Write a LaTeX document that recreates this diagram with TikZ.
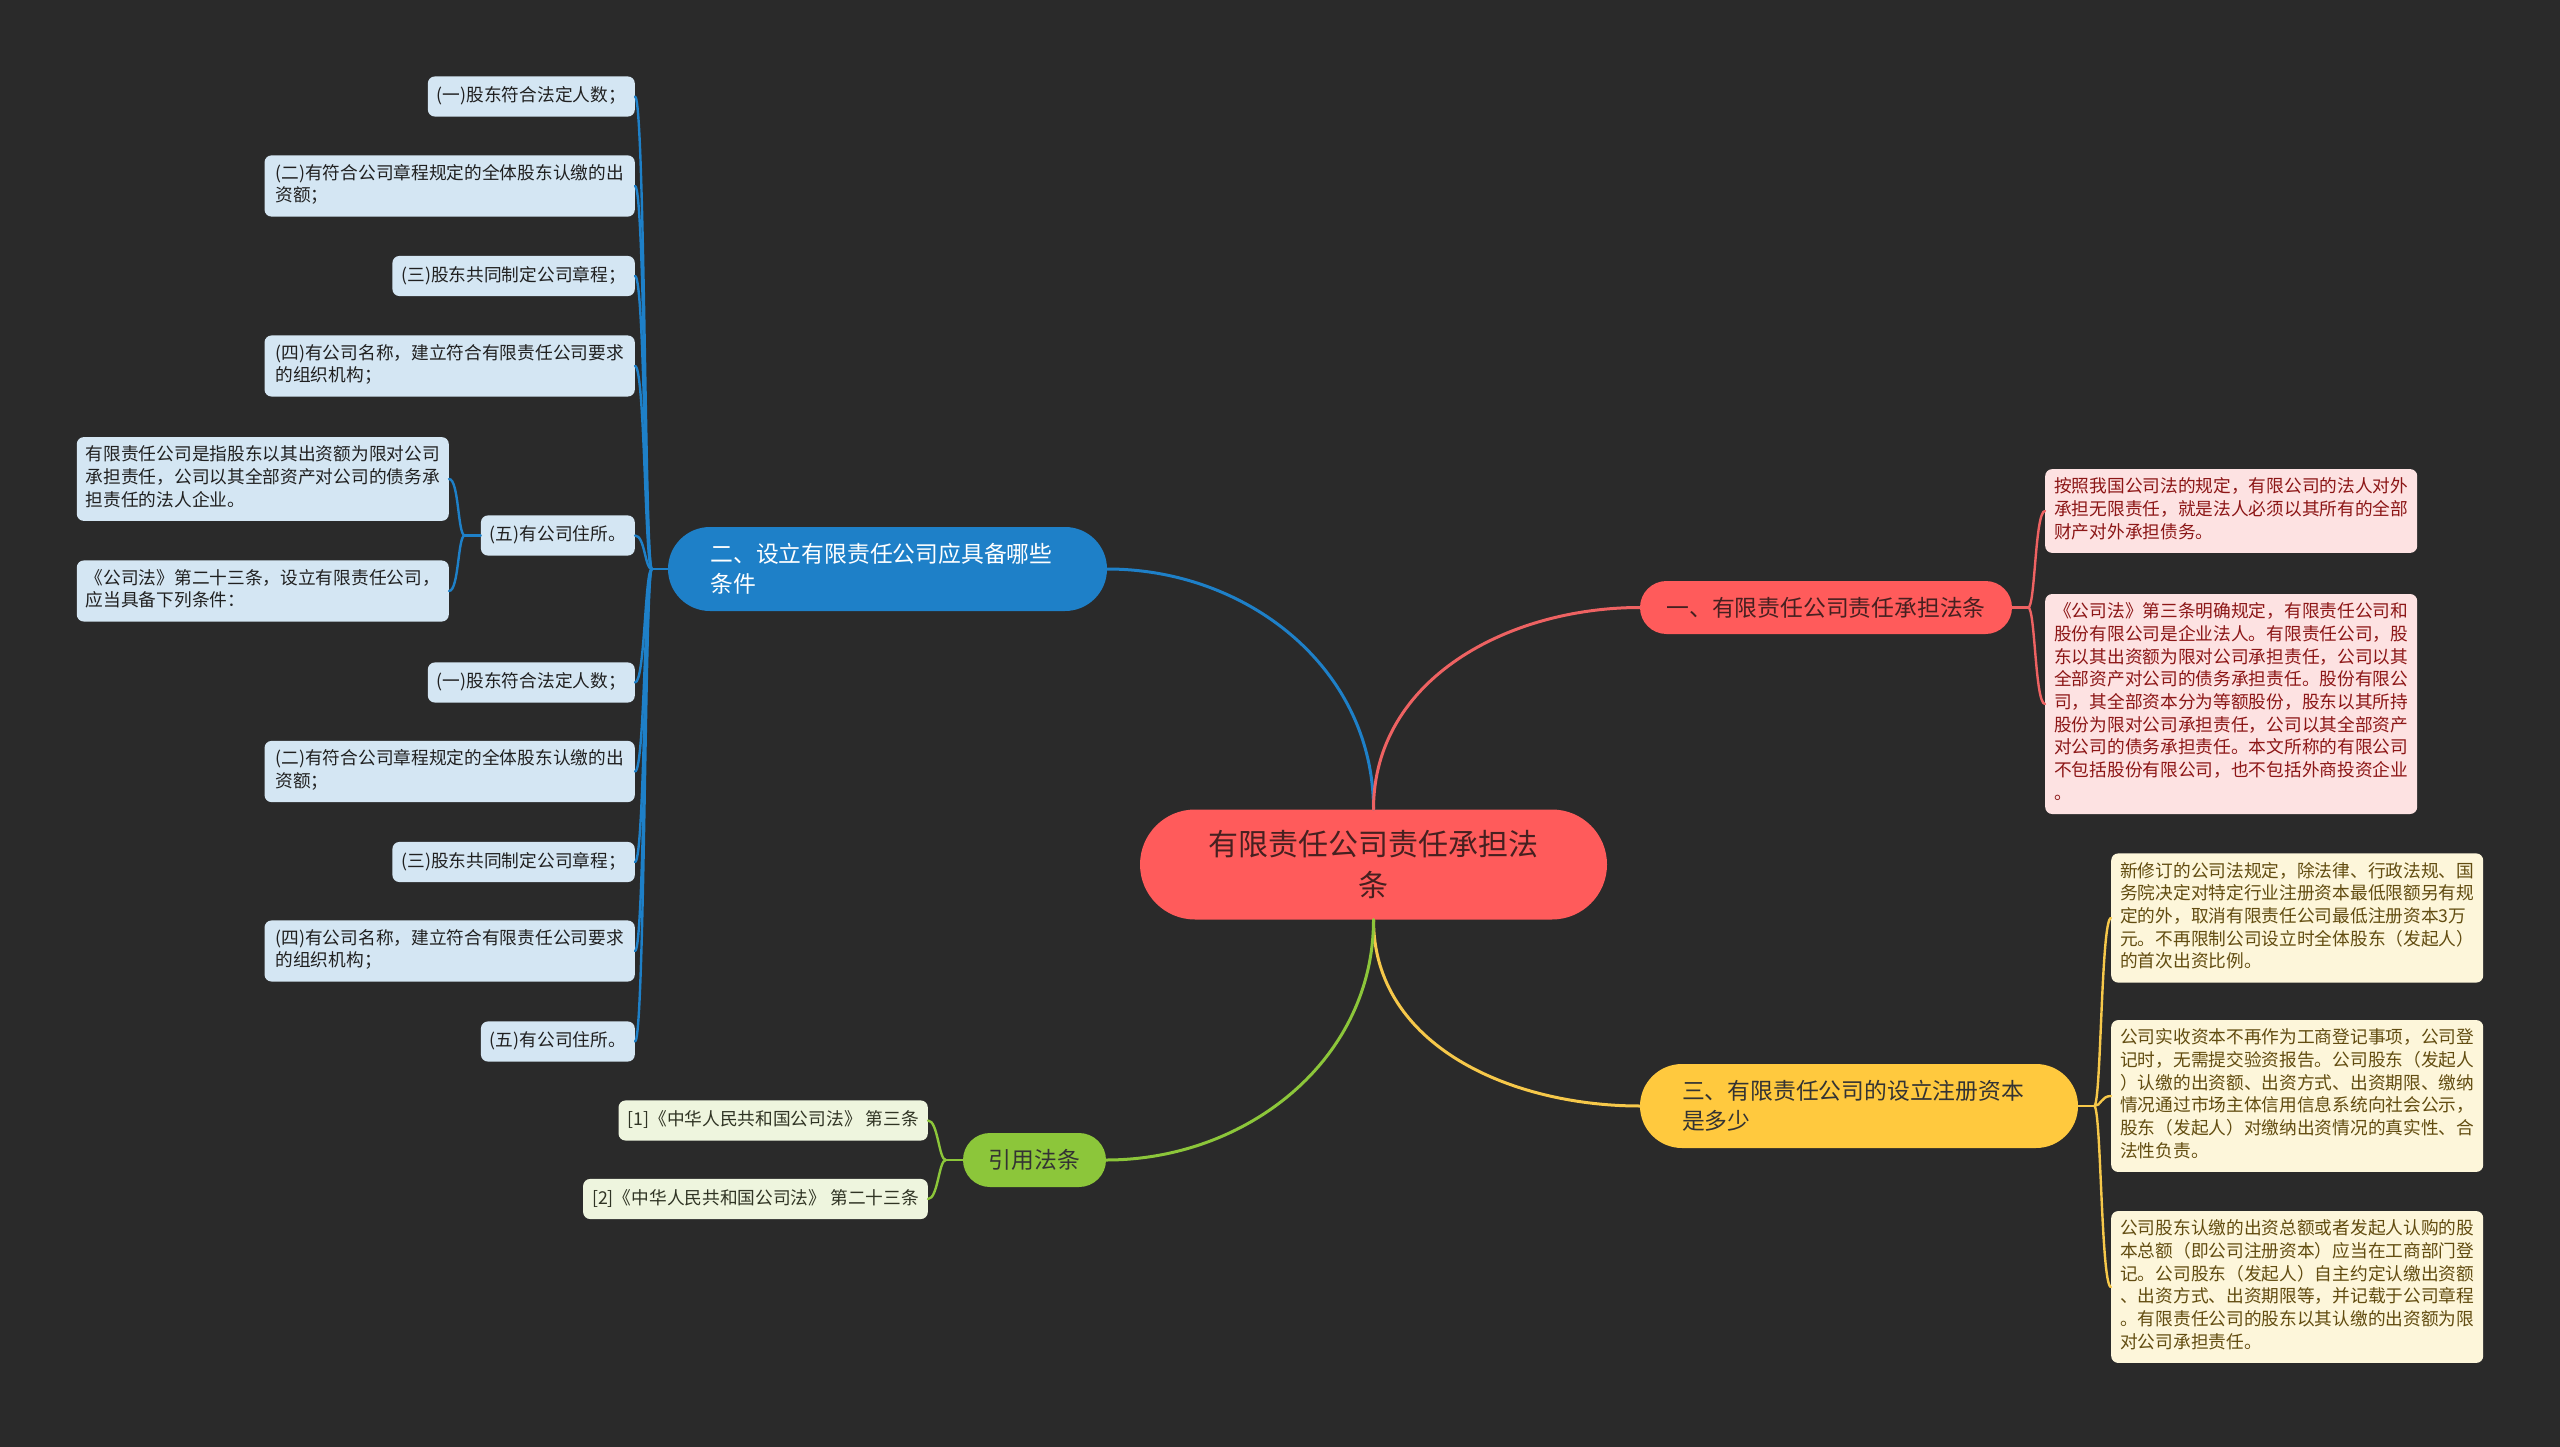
\documentclass[tikz,border=0pt]{standalone}
\usepackage{fontspec}
\setmainfont{Noto Sans CJK SC}
\usetikzlibrary{shapes.misc}
\definecolor{bgdark}{RGB}{42,42,42}
\definecolor{rootred}{RGB}{255,91,91}
\definecolor{roottx}{RGB}{70,32,32}
\definecolor{bluebr}{RGB}{30,128,200}
\definecolor{redbr}{RGB}{238,98,98}
\definecolor{yellowbr}{RGB}{255,201,62}
\definecolor{yellowln}{RGB}{246,200,74}
\definecolor{greenbr}{RGB}{140,198,58}
\definecolor{bluelf}{RGB}{212,230,243}
\definecolor{bluetx}{RGB}{32,32,32}
\definecolor{redlf}{RGB}{253,226,226}
\definecolor{redtx}{RGB}{140,22,22}
\definecolor{yellowlf}{RGB}{253,246,218}
\definecolor{yellowtx}{RGB}{98,76,16}
\definecolor{greenlf}{RGB}{238,245,222}
\definecolor{greentx}{RGB}{48,52,36}
\newcommand{\rootfont}{\fontsize{30pt}{41pt}\selectfont}
\newcommand{\brfont}{\fontsize{22.8pt}{30pt}\selectfont}
\newcommand{\lffont}{\fontsize{17.7pt}{22.7pt}\selectfont}
\newcommand{\lfstrut}{\rule[-6pt]{0pt}{22.7pt}}
\tikzset{
  mind/.style={line width=3pt, line cap=round},
  twig/.style={line width=2.4pt, line cap=round},
  pill/.style={rounded rectangle, inner xsep=0pt, inner ysep=4pt},
  leaf/.style={rounded corners=7pt, inner xsep=9pt, inner ysep=8.7pt,
    align=left, font=\lffont,
    execute at begin node=\lfstrut, execute at end node=\lfstrut},
  bleaf/.style={leaf, fill=bluelf, text=bluetx, anchor=east},
  wide/.style={inner xsep=11pt},
  rleaf/.style={leaf, fill=redlf, text=redtx, anchor=west},
  yleaf/.style={leaf, fill=yellowlf, text=yellowtx, anchor=west},
  gleaf/.style={leaf, fill=greenlf, text=greentx, anchor=east},
}
\begin{document}
\begin{tikzpicture}[x=1pt, y=-1pt]
  \fill[bgdark] (0,0) rectangle (2560,1447);
  \useasboundingbox (0,0) rectangle (2560,1447);
  % centre and the four branches
  \node[pill, fill=rootred, text=roottx, font=\rootfont, text width=357pt,
    align=center, minimum width=467pt, minimum height=110pt] (root)
    at (1373.5,864.5) {有限责任公司责任承担法\\条};
  \node[pill, fill=bluebr, text=white, font=\brfont, text width=354pt,
    align=left, minimum width=439pt, minimum height=84pt] (bmain)
    at (887.5,569) {二、设立有限责任公司应具备哪些\\条件};
  \node[pill, fill=rootred, text=roottx, font=\brfont,
    minimum width=372pt, minimum height=53pt] (rmain) at (1826,607.5)
    {一、有限责任公司责任承担法条};
  \node[pill, fill=yellowbr, text=black!80, font=\brfont, text width=354pt,
    align=left, minimum width=438pt, minimum height=84pt] (ymain)
    at (1859,1106) {三、有限责任公司的设立注册资本\\是多少};
  \node[pill, fill=greenbr, text=black!80, font=\brfont,
    minimum width=143pt, minimum height=54pt] (gmain) at (1034.5,1160)
    {引用法条};
  \draw[mind, bluebr] (root.north) to[out=90, in=0] (bmain.east);
  \draw[mind, redbr] (root.north) to[out=90, in=180] (rmain.west);
  \draw[mind, yellowln] (root.south) to[out=-90, in=180] (ymain.west);
  \draw[mind, greenbr] (root.south) to[out=-90, in=0] (gmain.east);
  % conditions
  \node[bleaf] (b1) at (635,96.5) {(一)股东符合法定人数；};
  \node[bleaf, wide] (b2) at (635,186) {(二)有符合公司章程规定的全体股东认缴的出\\资额；};
  \node[bleaf] (b3) at (635,276) {(三)股东共同制定公司章程；};
  \node[bleaf, wide] (b4) at (635,366) {(四)有公司名称，建立符合有限责任公司要求\\的组织机构；};
  \node[bleaf] (b5) at (635,535.5) {(五)有公司住所。};
  \node[bleaf] (b6) at (635,682.5) {(一)股东符合法定人数；};
  \node[bleaf, wide] (b7) at (635,771.5) {(二)有符合公司章程规定的全体股东认缴的出\\资额；};
  \node[bleaf] (b8) at (635,862) {(三)股东共同制定公司章程；};
  \node[bleaf, wide] (b9) at (635,951) {(四)有公司名称，建立符合有限责任公司要求\\的组织机构；};
  \node[bleaf] (b10) at (635,1041.5) {(五)有公司住所。};
  \node[bleaf] (b5a) at (449,479) {有限责任公司是指股东以其出资额为限对公司\\承担责任，公司以其全部资产对公司的债务承\\担责任的法人企业。};
  \node[bleaf] (b5b) at (449,591) {《公司法》第二十三条，设立有限责任公司，\\应当具备下列条件：};
  \draw[twig, bluebr] (bmain.west) -- ++(-16,0) coordinate (bj);
  \foreach \n in {b1,b2,b3,b4,b5,b6,b7,b8,b9,b10}
    \draw[twig, bluebr] (bj) .. controls +(-7,0) and +(10,0) .. (\n.east);
  \draw[twig, bluebr] (b5.west) -- ++(-16,0) coordinate (b5j);
  \foreach \n in {b5a,b5b}
    \draw[twig, bluebr] (b5j) .. controls +(-7,0) and +(10,0) .. (\n.east);
  % liability
  \node[rleaf] (r1) at (2045,511) {按照我国公司法的规定，有限公司的法人对外\\承担无限责任，就是法人必须以其所有的全部\\财产对外承担债务。};
  \node[rleaf] (r2) at (2045,704) {《公司法》第三条明确规定，有限责任公司和\\股份有限公司是企业法人。有限责任公司，股\\东以其出资额为限对公司承担责任，公司以其\\全部资产对公司的债务承担责任。股份有限公\\司，其全部资本分为等额股份，股东以其所持\\股份为限对公司承担责任，公司以其全部资产\\对公司的债务承担责任。本文所称的有限公司\\不包括股份有限公司，也不包括外商投资企业\\。};
  \draw[twig, redbr] (rmain.east) -- ++(16,0) coordinate (rj);
  \foreach \n in {r1,r2}
    \draw[twig, redbr] (rj) .. controls +(7,0) and +(-10,0) .. (\n.west);
  % registered capital
  \node[yleaf] (y1) at (2111,918) {新修订的公司法规定，除法律、行政法规、国\\务院决定对特定行业注册资本最低限额另有规\\定的外，取消有限责任公司最低注册资本3万\\元。不再限制公司设立时全体股东（发起人）\\的首次出资比例。};
  \node[yleaf] (y2) at (2111,1096) {公司实收资本不再作为工商登记事项，公司登\\记时，无需提交验资报告。公司股东（发起人\\）认缴的出资额、出资方式、出资期限、缴纳\\情况通过市场主体信用信息系统向社会公示，\\股东（发起人）对缴纳出资情况的真实性、合\\法性负责。};
  \node[yleaf] (y3) at (2111,1287) {公司股东认缴的出资总额或者发起人认购的股\\本总额（即公司注册资本）应当在工商部门登\\记。公司股东（发起人）自主约定认缴出资额\\、出资方式、出资期限等，并记载于公司章程\\。有限责任公司的股东以其认缴的出资额为限\\对公司承担责任。};
  \draw[twig, yellowln] (ymain.east) -- ++(16,0) coordinate (yj);
  \foreach \n in {y1,y2,y3}
    \draw[twig, yellowln] (yj) .. controls +(7,0) and +(-10,0) .. (\n.west);
  % cited articles
  \node[gleaf] (g1) at (928,1120.5) {[1]《中华人民共和国公司法》 第三条};
  \node[gleaf] (g2) at (928,1199) {[2]《中华人民共和国公司法》 第二十三条};
  \draw[twig, greenbr] (gmain.west) -- ++(-17,0) coordinate (gj);
  \foreach \n in {g1,g2}
    \draw[twig, greenbr] (gj) .. controls +(-7,0) and +(10,0) .. (\n.east);
\end{tikzpicture}
\end{document}
